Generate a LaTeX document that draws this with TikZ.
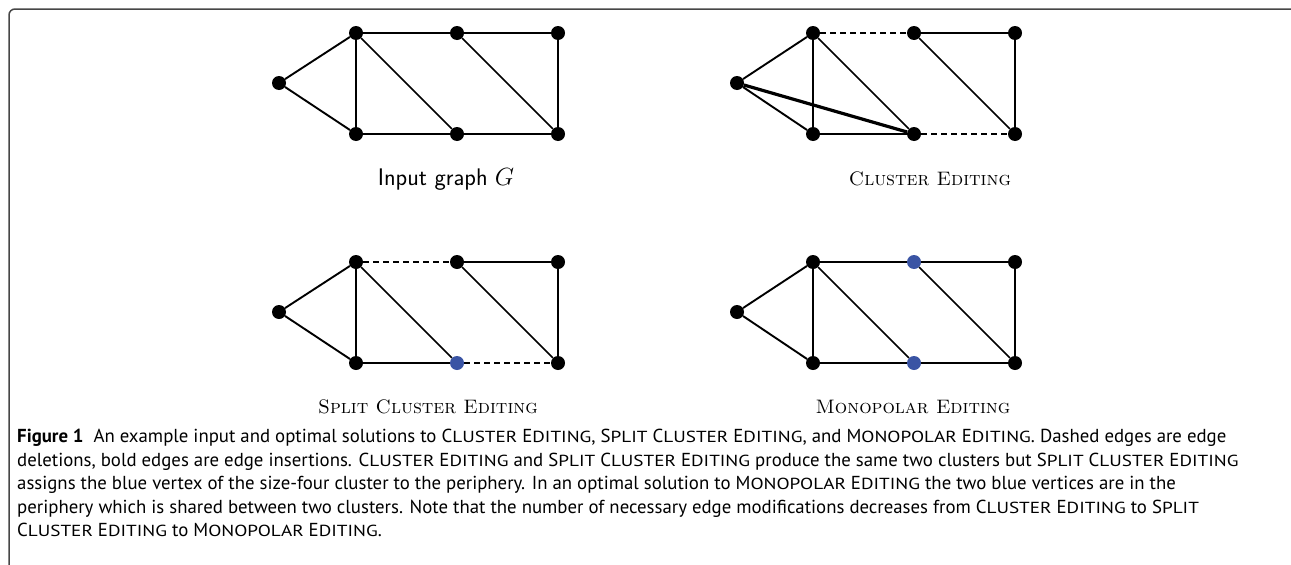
\documentclass[tikz,border=0pt]{standalone}
\usepackage{fontspec}
\newfontfamily\capfont{PT Sans}
\newfontfamily\capscfont[FakeStretch=1.2]{PT Sans}
\definecolor{vblue}{RGB}{58,84,164}
\definecolor{framegray}{RGB}{70,70,70}
\newcommand{\smc}[1]{{\capscfont\fontsize{16}{16}\selectfont #1}}
\tikzset{
  vtx/.style={circle, fill=black, inner sep=0pt, minimum size=14pt},
  bvtx/.style={vtx, fill=vblue},
  gedge/.style={line width=1.5pt},
  ledge/.style={line width=1.9pt},
  deledge/.style={line width=1.5pt, dash pattern=on 6pt off 4pt},
  insedge/.style={line width=3.2pt},
  glabel/.style={font=\fontsize{19.5}{23}\selectfont, inner sep=0pt, anchor=base},
  slabel/.style={font=\fontsize{24}{28}\selectfont, inner sep=0pt, anchor=base},
  capline/.style={font=\capfont\fontsize{18.8}{24}\selectfont, inner sep=0pt, anchor=base west}
}
\begin{document}
\begin{tikzpicture}[x=1pt,y=-1pt]
\useasboundingbox (0,0) rectangle (1291,565);
% frame
\coordinate (fb) at (9,565);
\coordinate (fc) at (9,9);
\coordinate (fr) at (1291,9);
\draw[framegray, line width=1.5pt, rounded corners=6pt] (fb) -- (fc) -- (fr);

% ---------- Graph 1: input graph
\node[vtx] (aL) at (279,83) {};
\node[vtx] (aA) at (356,33) {};
\node[vtx] (aB) at (457,33) {};
\node[vtx] (aC) at (558,33) {};
\node[vtx] (aD) at (356,134) {};
\node[vtx] (aE) at (457,134) {};
\node[vtx] (aF) at (558,134) {};
\draw[ledge] (aL) -- (aA);
\draw[ledge] (aL) -- (aD);
\draw[gedge] (aA) -- (aB);
\draw[gedge] (aB) -- (aC);
\draw[gedge] (aA) -- (aD);
\draw[gedge] (aA) -- (aE);
\draw[gedge] (aB) -- (aF);
\draw[gedge] (aC) -- (aF);
\draw[gedge] (aD) -- (aE);
\draw[gedge] (aE) -- (aF);
\node[slabel] (la) at (446,185) {\textsf{Input graph} $G$};

% ---------- Graph 2: cluster editing
\node[vtx] (bL) at (737,83) {};
\node[vtx] (bA) at (813,33) {};
\node[vtx] (bB) at (914,33) {};
\node[vtx] (bC) at (1015,33) {};
\node[vtx] (bD) at (813,134) {};
\node[vtx] (bE) at (914,134) {};
\node[vtx] (bF) at (1015,134) {};
\draw[ledge] (bL) -- (bA);
\draw[ledge] (bL) -- (bD);
\draw[insedge] (bL) -- (bE);
\draw[deledge] (bA) -- (bB);
\draw[gedge] (bB) -- (bC);
\draw[gedge] (bA) -- (bD);
\draw[gedge] (bA) -- (bE);
\draw[gedge] (bB) -- (bF);
\draw[gedge] (bC) -- (bF);
\draw[gedge] (bD) -- (bE);
\draw[deledge] (bE) -- (bF);
\node[glabel] (lb) at (930,185) {\textsc{Cluster Editing}};

% ---------- Graph 3: split cluster editing
\node[vtx] (cL) at (279,312) {};
\node[vtx] (cA) at (356,262) {};
\node[vtx] (cB) at (457,262) {};
\node[vtx] (cC) at (558,262) {};
\node[vtx] (cD) at (356,363) {};
\node[bvtx] (cE) at (457,363) {};
\node[vtx] (cF) at (558,363) {};
\draw[ledge] (cL) -- (cA);
\draw[ledge] (cL) -- (cD);
\draw[deledge] (cA) -- (cB);
\draw[gedge] (cB) -- (cC);
\draw[gedge] (cA) -- (cD);
\draw[gedge] (cA) -- (cE);
\draw[gedge] (cB) -- (cF);
\draw[gedge] (cC) -- (cF);
\draw[gedge] (cD) -- (cE);
\draw[deledge] (cE) -- (cF);
\node[glabel] (lc) at (428,413) {\textsc{Split Cluster Editing}};

% ---------- Graph 4: monopolar editing
\node[vtx] (dL) at (737,312) {};
\node[vtx] (dA) at (813,262) {};
\node[bvtx] (dB) at (914,262) {};
\node[vtx] (dC) at (1015,262) {};
\node[vtx] (dD) at (813,363) {};
\node[bvtx] (dE) at (914,363) {};
\node[vtx] (dF) at (1015,363) {};
\draw[ledge] (dL) -- (dA);
\draw[ledge] (dL) -- (dD);
\draw[gedge] (dA) -- (dB);
\draw[gedge] (dB) -- (dC);
\draw[gedge] (dA) -- (dD);
\draw[gedge] (dA) -- (dE);
\draw[gedge] (dB) -- (dF);
\draw[gedge] (dC) -- (dF);
\draw[gedge] (dD) -- (dE);
\draw[gedge] (dE) -- (dF);
\node[glabel] (ld) at (913,413) {\textsc{Monopolar Editing}};

% ---------- caption
\node[capline] (cap1) at (17,442) {\textbf{Figure 1}\hspace{10pt}An example input and optimal solutions to C\smc{LUSTER} E\smc{DITING}, S\smc{PLIT} C\smc{LUSTER} E\smc{DITING}, and M\smc{ONOPOLAR} E\smc{DITING}. Dashed edges are edge};
\node[capline] (cap2) at (17,466) {deletions, bold edges are edge insertions. C\smc{LUSTER} E\smc{DITING} and S\smc{PLIT} C\smc{LUSTER} E\smc{DITING} produce the same two clusters but S\smc{PLIT} C\smc{LUSTER} E\smc{DITING}};
\node[capline] (cap3) at (17,489.5) {assigns the blue vertex of the size-four cluster to the periphery. In an optimal solution to M\smc{ONOPOLAR} E\smc{DITING} the two blue vertices are in the};
\node[capline] (cap4) at (17,513) {periphery which is shared between two clusters. Note that the number of necessary edge modifications decreases from C\smc{LUSTER} E\smc{DITING} to S\smc{PLIT}};
\node[capline] (cap5) at (17,536.5) {C\smc{LUSTER} E\smc{DITING} to M\smc{ONOPOLAR} E\smc{DITING}.};
\end{tikzpicture}
\end{document}
